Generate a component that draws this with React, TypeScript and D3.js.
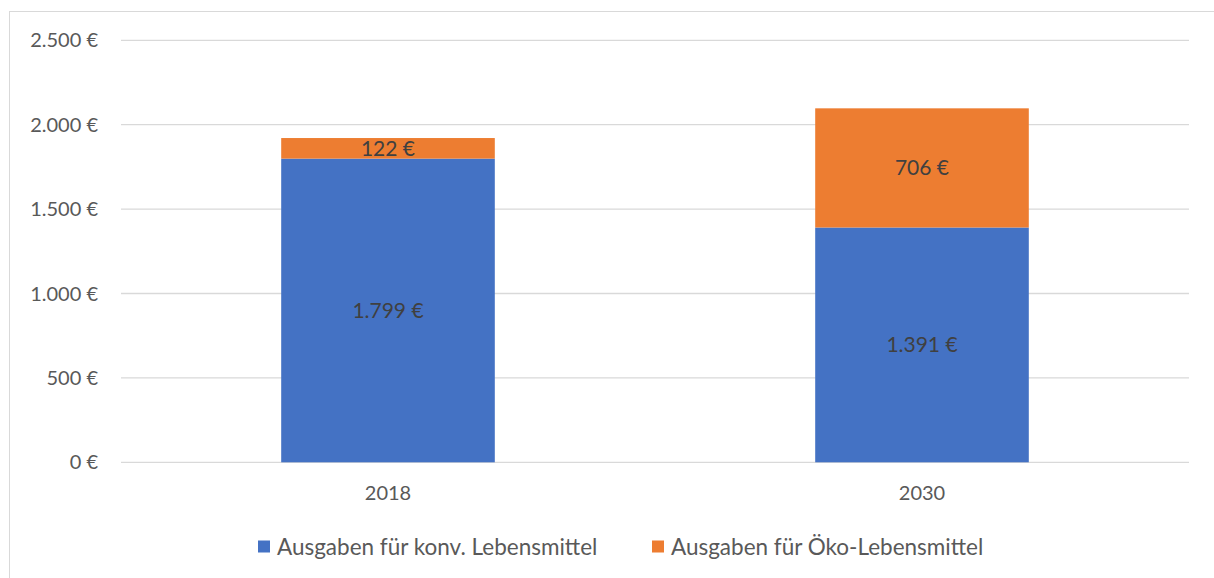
import * as d3 from 'd3'
import { useEffect, useRef } from 'react'

const years = ['2018', '2030']
const konv = [1799, 1391]
const oeko = [122, 706]
const yTicks = [0, 500, 1000, 1500, 2000, 2500]
const seriesNames = ['Ausgaben für konv. Lebensmittel', 'Ausgaben für Öko-Lebensmittel']
const colors = ['#4472C4', '#ED7D31']

const W = 1214
const H = 578
const margin = { top: 40.3, left: 121, right: 25, bottom: 115.7 }
const font = 'Lato, "Open Sans", sans-serif'

const fmt = (v: number) => d3.format(',')(v).replace(/,/g, '.') + ' €'

export default function App() {
  const ref = useRef<SVGSVGElement>(null)

  useEffect(() => {
    const svg = d3.select(ref.current)
    svg.selectAll('*').remove()

    // chart frame (cut off at right and bottom, like the screenshot)
    svg
      .append('rect')
      .attr('x', 9.5)
      .attr('y', 11.5)
      .attr('width', W + 20)
      .attr('height', H + 20)
      .attr('fill', 'white')
      .attr('stroke', '#d9d9d9')

    const x = d3
      .scaleBand()
      .domain(years)
      .range([margin.left, W - margin.right])
      .paddingInner(0.6)
      .paddingOuter(0.3)
    const y = d3
      .scaleLinear()
      .domain([0, 2500])
      .range([H - margin.bottom, margin.top])

    // gridlines
    svg
      .append('g')
      .selectAll('line')
      .data(yTicks)
      .join('line')
      .attr('x1', margin.left)
      .attr('x2', W - margin.right)
      .attr('y1', (d) => y(d))
      .attr('y2', (d) => y(d))
      .attr('stroke', '#d9d9d9')
      .attr('stroke-width', 1.3)

    // y labels
    svg
      .append('g')
      .selectAll('text')
      .data(yTicks)
      .join('text')
      .attr('x', 98)
      .attr('y', (d) => y(d))
      .attr('dy', '0.35em')
      .attr('text-anchor', 'end')
      .attr('font-family', font)
      .attr('font-size', 20)
      .attr('fill', '#595959')
      .text(fmt)

    const stacked = years.map((yr, i) => ({ yr, a: konv[i], b: oeko[i] }))

    // bars
    const g = svg.append('g')
    g.selectAll('rect.konv')
      .data(stacked)
      .join('rect')
      .attr('class', 'konv')
      .attr('x', (d) => x(d.yr)!)
      .attr('width', x.bandwidth())
      .attr('y', (d) => y(d.a))
      .attr('height', (d) => y(0) - y(d.a))
      .attr('fill', colors[0])
    g.selectAll('rect.oeko')
      .data(stacked)
      .join('rect')
      .attr('class', 'oeko')
      .attr('x', (d) => x(d.yr)!)
      .attr('width', x.bandwidth())
      .attr('y', (d) => y(d.a + d.b))
      .attr('height', (d) => y(d.a) - y(d.a + d.b))
      .attr('fill', colors[1])

    // value labels
    const lbl = (sel: any) =>
      sel
        .attr('text-anchor', 'middle')
        .attr('dy', '0.35em')
        .attr('font-family', font)
        .attr('font-size', 21)
        .attr('fill', '#404040')
    g.selectAll('text.konv')
      .data(stacked)
      .join('text')
      .attr('class', 'konv')
      .attr('x', (d) => x(d.yr)! + x.bandwidth() / 2)
      .attr('y', (d) => y(d.a / 2))
      .call(lbl)
      .text((d) => fmt(d.a))
    g.selectAll('text.oeko')
      .data(stacked)
      .join('text')
      .attr('class', 'oeko')
      .attr('x', (d) => x(d.yr)! + x.bandwidth() / 2)
      .attr('y', (d) => y(d.a + d.b / 2))
      .call(lbl)
      .text((d) => fmt(d.b))

    // x labels
    svg
      .append('g')
      .selectAll('text')
      .data(years)
      .join('text')
      .attr('x', (d) => x(d)! + x.bandwidth() / 2)
      .attr('y', 493)
      .attr('dy', '0.35em')
      .attr('text-anchor', 'middle')
      .attr('font-family', font)
      .attr('font-size', 20)
      .attr('fill', '#595959')
      .text((d) => d)

    // legend
    const legX = [258, 652]
    const leg = svg
      .append('g')
      .selectAll('g')
      .data(seriesNames)
      .join('g')
      .attr('transform', (d, i) => `translate(${legX[i]}, 547)`)
    leg
      .append('rect')
      .attr('x', 0)
      .attr('y', -6.5)
      .attr('width', 12)
      .attr('height', 12)
      .attr('fill', (d, i) => colors[i])
    leg
      .append('text')
      .attr('x', 19)
      .attr('dy', '0.35em')
      .attr('font-family', font)
      .attr('font-size', 22.5)
      .attr('fill', '#595959')
      .text((d) => d)
  }, [])

  return (
    <svg
      ref={ref}
      width={W}
      height={H}
      style={{ position: 'absolute', left: 0, top: 0, display: 'block' }}
    />
  )
}
